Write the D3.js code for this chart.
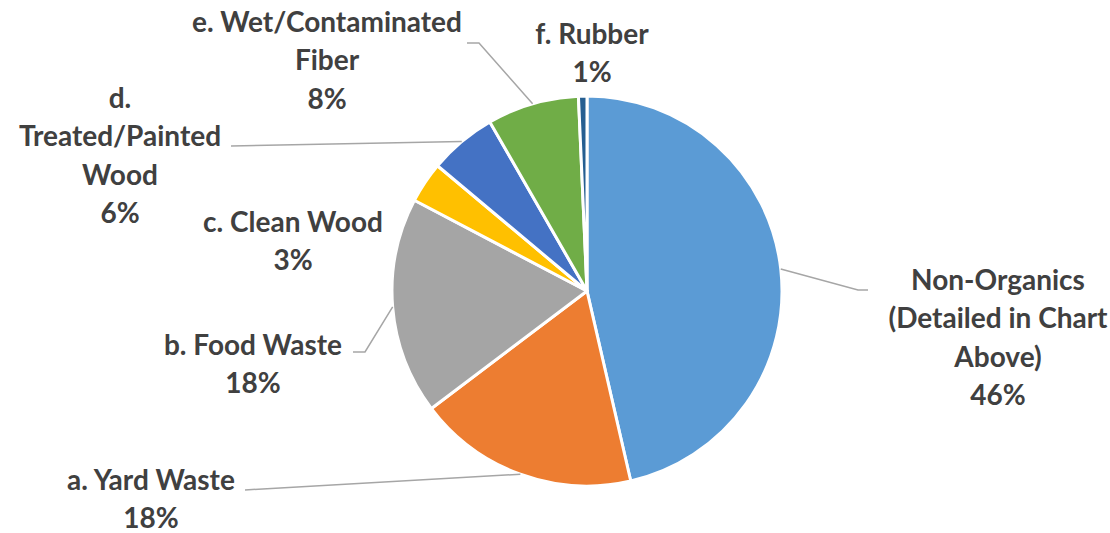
<!DOCTYPE html>
<html>
<head>
<meta charset="utf-8">
<script src="https://cdn.jsdelivr.net/npm/d3@7"></script>
<style>
  body { margin: 0; background: #fff; }
  svg { display: block; }
  .slice-label { font-family: Lato, "Open Sans", sans-serif; font-weight: bold; font-size: 28px; fill: #404040; }
  .leader { fill: none; stroke: #a6a6a6; stroke-width: 1.5px; }
</style>
</head>
<body>
<svg id="chart"></svg>
<script>
// categories in drawing order (clockwise from 12 o'clock)
const categories = ['Non-Organics (Detailed in Chart Above)', 'a. Yard Waste', 'b. Food Waste',
  'c. Clean Wood', 'd. Treated/Painted Wood', 'e. Wet/Contaminated Fiber', 'f. Rubber'];
const shares = [46.4, 18.3, 18.0, 3.4, 5.6, 7.6, 0.7];
const colors = ['#5b9bd5', '#ed7d31', '#a5a5a5', '#ffc000', '#4472c4', '#70ad47', '#255e91'];
// how each category name is broken over lines in its label
const labelLines = [
  ['Non-Organics', '(Detailed in Chart', 'Above)'],
  ['a. Yard Waste'],
  ['b. Food Waste'],
  ['c. Clean Wood'],
  ['d.', 'Treated/Painted', 'Wood'],
  ['e. Wet/Contaminated', 'Fiber'],
  ['f. Rubber']
];

// label placement (centre x, centre y of first line) and leader line elbows
const labelLayout = [
  {x: 998, y: 280, leader: [[858, 290], [868, 290]]},
  {x: 151, y: 480, leader: [[245, 490]]},
  {x: 253, y: 345, leader: [[365, 352], [353, 352]]},
  {x: 293, y: 222, leader: null},
  {x: 120, y: 98, leader: [[231, 146]]},
  {x: 327, y: 22, leader: [[479, 43], [467, 43]]},
  {x: 592, y: 34, leader: null}
];

const width = 1110, height = 533;
const cx = 587, cy = 291, radius = 195;
const lineH = 38.5;

const svg = d3.select('#chart')
  .attr('width', width)
  .attr('height', height);

const data = categories.map((c, i) => ({name: c, value: shares[i], i: i}));
const total = d3.sum(shares);

const pie = d3.pie()
  .sort(null)
  .value(d => d.value);

const arc = d3.arc()
  .innerRadius(0)
  .outerRadius(radius);

const arcs = pie(data);

const chart = svg.append('g')
  .attr('transform', `translate(${cx},${cy})`);

chart.selectAll('path.slice')
  .data(arcs)
  .enter().append('path')
    .attr('class', 'slice')
    .attr('d', arc)
    .attr('fill', d => colors[d.data.i])
    .attr('stroke', '#fff')
    .attr('stroke-width', 3)
    .attr('stroke-linejoin', 'round');

// leader lines: from slice edge at mid angle to the label
arcs.forEach(d => {
  const lay = labelLayout[d.data.i];
  if (!lay.leader) return;
  const mid = (d.startAngle + d.endAngle) / 2;
  const start = [cx + radius * Math.sin(mid), cy - radius * Math.cos(mid)];
  const pts = [start].concat(lay.leader);
  svg.append('path')
    .attr('class', 'leader')
    .attr('d', d3.line()(pts));
});

// labels
const labels = svg.selectAll('text.slice-label')
  .data(data)
  .enter().append('text')
    .attr('class', 'slice-label')
    .attr('text-anchor', 'middle');

labels.each(function(d) {
  const lay = labelLayout[d.i];
  const lines = labelLines[d.i].concat([Math.round(d.value / total * 100) + '%']);
  const t = d3.select(this);
  lines.forEach((ln, k) => {
    t.append('tspan')
      .attr('x', lay.x)
      .attr('y', lay.y + k * lineH)
      .attr('dy', '0.35em')
      .text(ln);
  });
});
</script>
</body>
</html>
